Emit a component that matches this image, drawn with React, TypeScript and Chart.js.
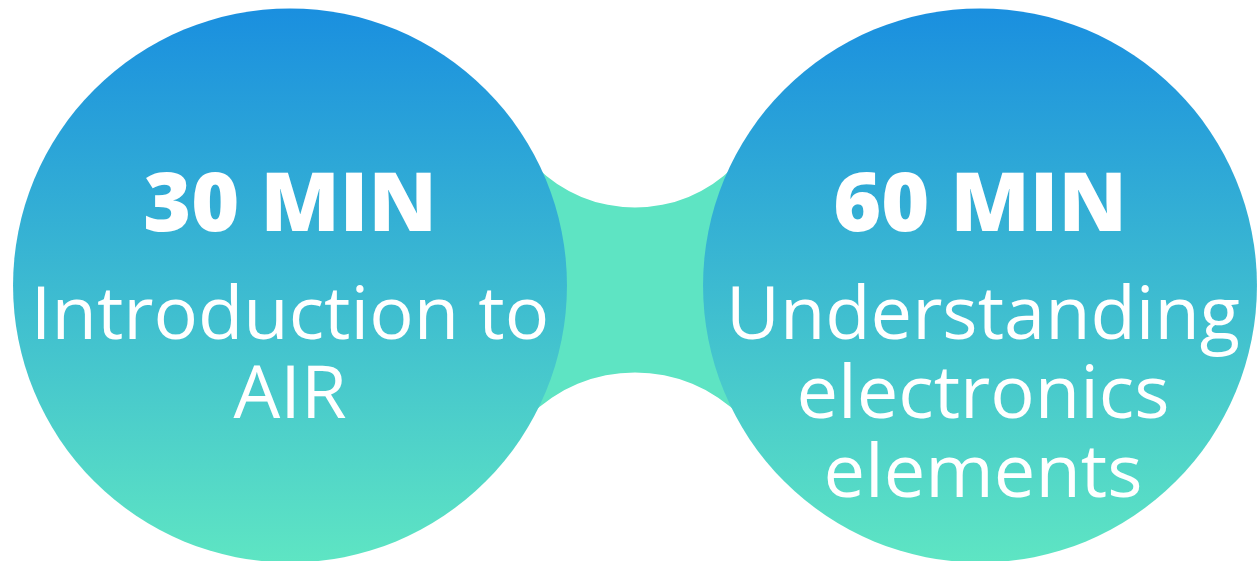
import React, { useEffect, useRef } from "react";
import { Chart, registerables } from "chart.js";

Chart.register(...registerables);

// ---- data ----
const durations: string[] = ["30 MIN", "60 MIN"];
const titles: string[][] = [
  ["Introduction to", "AIR"],
  ["Understanding", "electronics", "elements"],
];
const stageX: number[] = [0, 1];
const stageY: number[] = [0, 0];

// ---- geometry (data units) ----
const CIRCLE_R = 0.4014;
const X_MIN = -0.4203;
const X_MAX = 1.4058;
const Y_MIN = -0.3993;
const Y_MAX = 0.4138;
const CUT_TOP_Y = 0.316; // center of top cutout
const CUT_TOP_R = 0.203;
const CUT_BOT_Y = -0.343;
const CUT_BOT_R = 0.217;
const BRIDGE_INSET = 0.333;

// ---- styles ----
const COLOR_TOP = "#1a8fdf";
const COLOR_BOTTOM = "#5ee5c3";
const BRIDGE_COLOR = "#5ee4c3";
const BOLD_FONT = "800 82px 'Open Sans'";
const TITLE_FONT = "400 74px 'Open Sans'";

const bridgePlugin = {
  id: "bridge",
  beforeDatasetsDraw(chart: any) {
    const { ctx, scales } = chart;
    const xs = scales.x;
    const ys = scales.y;
    for (let i = 0; i < stageX.length - 1; i++) {
      const left = xs.getPixelForValue(stageX[i] + BRIDGE_INSET);
      const right = xs.getPixelForValue(stageX[i + 1] - BRIDGE_INSET);
      const mid = xs.getPixelForValue((stageX[i] + stageX[i + 1]) / 2);
      const unit = xs.getPixelForValue(1) - xs.getPixelForValue(0);
      const topC = ys.getPixelForValue(CUT_TOP_Y);
      const botC = ys.getPixelForValue(CUT_BOT_Y);
      ctx.save();
      ctx.beginPath();
      ctx.rect(0, 0, chart.width, chart.height);
      ctx.moveTo(mid + CUT_TOP_R * unit, topC);
      ctx.arc(mid, topC, CUT_TOP_R * unit, 0, Math.PI * 2);
      ctx.moveTo(mid + CUT_BOT_R * unit, botC);
      ctx.arc(mid, botC, CUT_BOT_R * unit, 0, Math.PI * 2);
      ctx.clip("evenodd");
      ctx.fillStyle = BRIDGE_COLOR;
      ctx.fillRect(left, topC, right - left, botC - topC);
      ctx.restore();
    }
  },
};

const textPlugin = {
  id: "stageText",
  afterDatasetsDraw(chart: any) {
    const { ctx, scales } = chart;
    const xs = scales.x;
    const ys = scales.y;
    ctx.save();
    ctx.fillStyle = "#ffffff";
    ctx.textAlign = "center";
    ctx.textBaseline = "alphabetic";
    stageX.forEach((sx, i) => {
      const cx = xs.getPixelForValue(sx);
      const cy = ys.getPixelForValue(stageY[i]);
      ctx.font = BOLD_FONT;
      ctx.fillText(durations[i], cx, cy - 55);
      ctx.font = TITLE_FONT;
      titles[i].forEach((line, j) => {
        ctx.fillText(line, cx + (i === 1 ? 3 : 0), cy + 53 + j * 79);
      });
    });
    ctx.restore();
  },
};

function pxRadius(chart: any): number {
  const xs = chart.scales && chart.scales.x;
  if (!xs) return 0;
  const r = xs.getPixelForValue(CIRCLE_R) - xs.getPixelForValue(0);
  return Number.isFinite(r) ? r : 0;
}

export default function App() {
  const ref = useRef<HTMLCanvasElement | null>(null);
  useEffect(() => {
    if (!ref.current) return;
    const chart = new Chart(ref.current, {
      type: "scatter",
      data: {
        datasets: [
          {
            data: stageX.map((x, i) => ({ x, y: stageY[i] })),
            pointRadius: (c: any) => pxRadius(c.chart),
            pointBorderWidth: 0,
            pointBackgroundColor: (c: any) => {
              const { chart } = c;
              const ys = chart.scales && chart.scales.y;
              if (!ys) return COLOR_TOP;
              const r = pxRadius(chart);
              const cy = ys.getPixelForValue(0);
              if (!Number.isFinite(cy) || !Number.isFinite(r) || r <= 0) return COLOR_TOP;
              const g = chart.ctx.createLinearGradient(0, cy - r, 0, cy + r);
              g.addColorStop(0, COLOR_TOP);
              g.addColorStop(1, COLOR_BOTTOM);
              return g;
            },
          } as any,
        ],
      },
      options: {
        animation: false,
        responsive: false,
        maintainAspectRatio: false,
        events: [],
        layout: { padding: 0 },
        plugins: { legend: { display: false }, tooltip: { enabled: false } },
        scales: {
          x: { type: "linear", min: X_MIN, max: X_MAX, display: false },
          y: { type: "linear", min: Y_MIN, max: Y_MAX, display: false },
        },
      },
      plugins: [bridgePlugin, textPlugin],
    });
    return () => chart.destroy();
  }, []);
  return (
    <div style={{ position: "fixed", left: 0, top: 0, width: 1260, height: 561, background: "#fff" }}>
      <canvas ref={ref} width={1260} height={561} style={{ width: 1260, height: 561, display: "block" }} />
    </div>
  );
}
